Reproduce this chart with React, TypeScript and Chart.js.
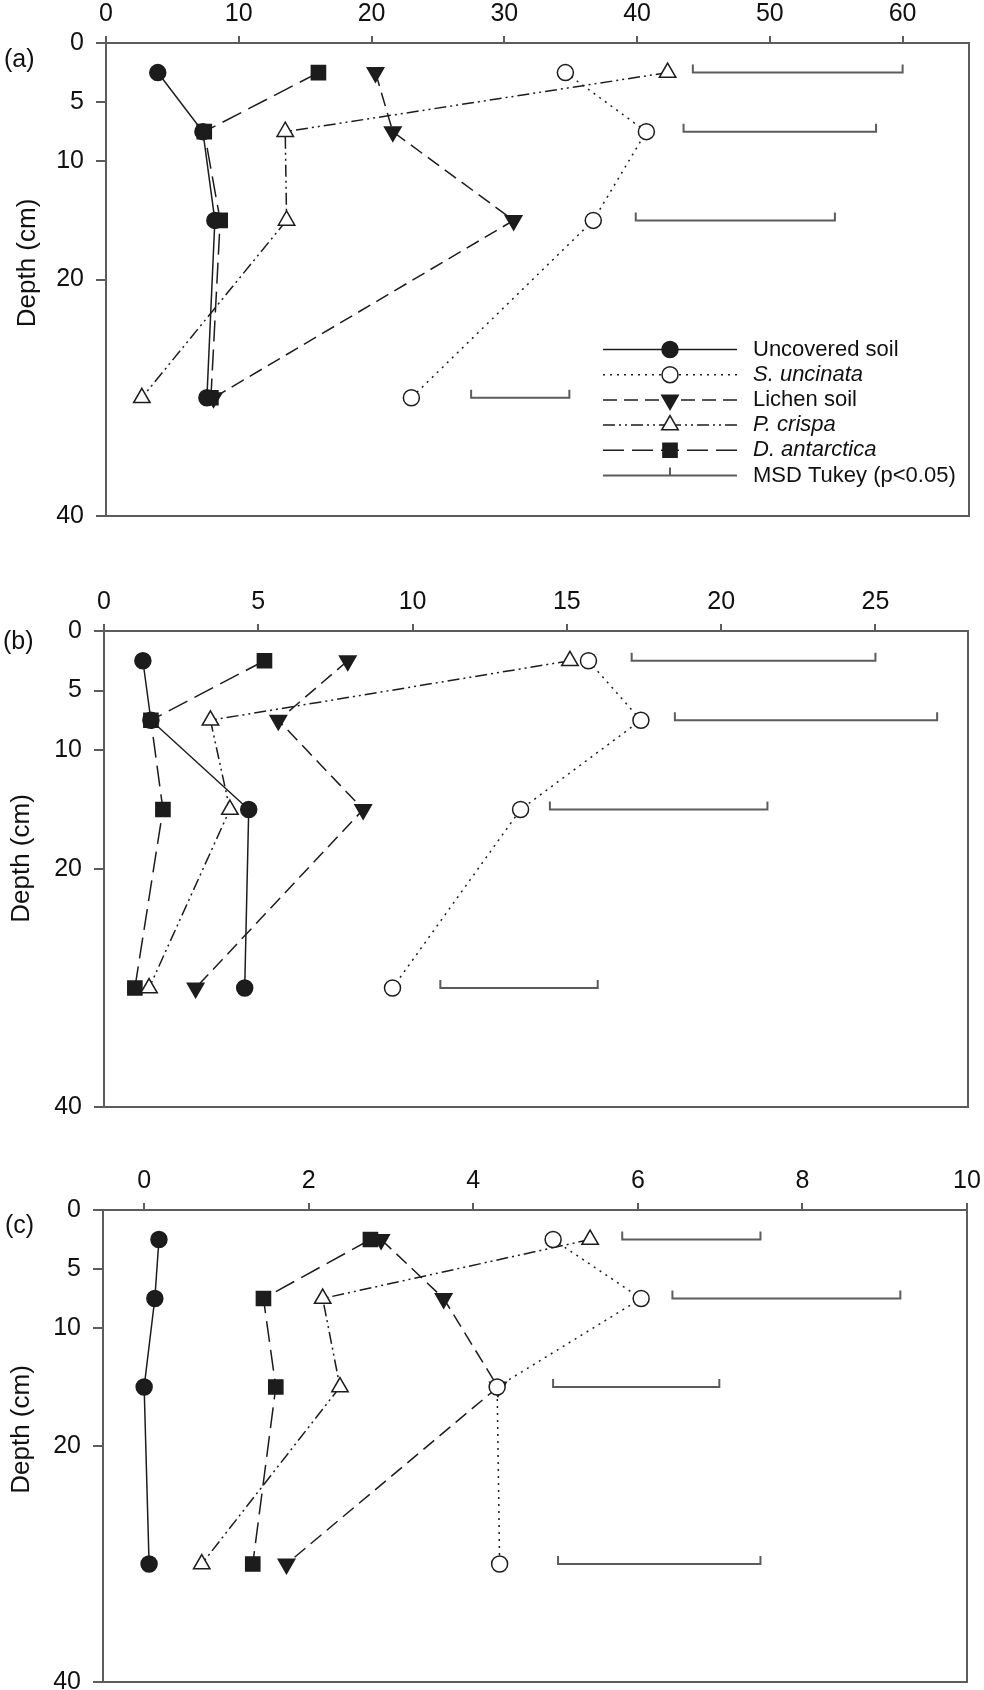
import React, { useEffect, useRef } from "react";
import { Chart, registerables } from "chart.js";

Chart.register(...registerables);

// ---------- data ----------
const DEPTHS = [2.5, 7.5, 15, 30];
const DEPTH_TICKS = [0, 5, 10, 20, 40];
const SERIES = ["Uncovered soil", "S. uncinata", "Lichen soil", "P. crispa", "D. antarctica"];
const SERIES_ITALIC = [false, true, false, true, true];
const MSD_LABEL = "MSD Tukey (p<0.05)";
const Y_TITLE = "Depth (cm)";

// panel (a)
const A_X_TICKS = [0, 10, 20, 30, 40, 50, 60];
const A_UNCOVERED = [3.9, 7.3, 8.2, 7.6];
const A_S_UNCINATA = [34.6, 40.7, 36.7, 23.0];
const A_LICHEN = [20.3, 21.6, 30.7, 8.1];
const A_P_CRISPA = [42.3, 13.5, 13.6, 2.7];
const A_D_ANTARCTICA = [16.0, 7.4, 8.6, 7.9];
const A_MSD_FROM = [44.2, 43.5, 39.9, 27.5];
const A_MSD_TO = [60.0, 58.0, 54.9, 34.9];

// panel (b)
const B_X_TICKS = [0, 5, 10, 15, 20, 25];
const B_UNCOVERED = [1.26, 1.52, 4.69, 4.56];
const B_S_UNCINATA = [15.7, 17.4, 13.5, 9.35];
const B_LICHEN = [7.9, 5.65, 8.4, 2.97];
const B_P_CRISPA = [15.1, 3.45, 4.08, 1.46];
const B_D_ANTARCTICA = [5.2, 1.52, 1.91, 1.0];
const B_MSD_FROM = [17.1, 18.5, 14.45, 10.9];
const B_MSD_TO = [25.0, 27.0, 21.5, 16.0];

// panel (c)
const C_X_TICKS = [0, 2, 4, 6, 8, 10];
const C_UNCOVERED = [0.18, 0.13, 0.0, 0.06];
const C_S_UNCINATA = [4.97, 6.04, 4.29, 4.32];
const C_LICHEN = [2.88, 3.64, 4.3, 1.73];
const C_P_CRISPA = [5.42, 2.17, 2.38, 0.7];
const C_D_ANTARCTICA = [2.75, 1.45, 1.6, 1.32];
const C_MSD_FROM = [5.81, 6.42, 4.97, 5.03];
const C_MSD_TO = [7.49, 9.19, 6.99, 7.49];

// ---------- styles ----------
const INK = "#1c1c1c";
const AXIS = "#5c5c5c";
const TEXT = "#111111";
const FONT = "'Liberation Sans', Arial, Helvetica, sans-serif";
const CANVAS_W = 1010;
const X_AXIS_H = 40;

type MarkerStyle = { point: string; radius: number; rotation: number; filled: boolean; dash: number[] };
const SERIES_STYLE: MarkerStyle[] = [
  { point: "circle", radius: 8, rotation: 0, filled: true, dash: [] },
  { point: "circle", radius: 8, rotation: 0, filled: false, dash: [2, 5] },
  { point: "triangle", radius: 9.5, rotation: 180, filled: true, dash: [14, 7] },
  { point: "triangle", radius: 9.5, rotation: 0, filled: false, dash: [12, 4, 2, 4, 2, 4] },
  { point: "rect", radius: 10, rotation: 0, filled: true, dash: [21, 8] },
];

type PanelCfg = {
  letter: string;
  series: number[][];
  msdFrom: number[];
  msdTo: number[];
  xTicks: number[];
  xMin: number;
  xMax: number;
  canvasTop: number;
  left: number;
  top: number;
  right: number;
  bottom: number;
  titleX: number;
  titleDy: number;
  letterX: number;
  letterDy: number;
  legend: boolean;
};

const PANELS: PanelCfg[] = [
  {
    letter: "(a)",
    series: [A_UNCOVERED, A_S_UNCINATA, A_LICHEN, A_P_CRISPA, A_D_ANTARCTICA],
    msdFrom: A_MSD_FROM,
    msdTo: A_MSD_TO,
    xTicks: A_X_TICKS,
    xMin: 0,
    xMax: 65,
    canvasTop: 0,
    left: 106,
    top: 43,
    right: 969,
    bottom: 516,
    titleX: 28,
    titleDy: -16.5,
    letterX: 4,
    letterDy: 17.5,
    legend: true,
  },
  {
    letter: "(b)",
    series: [B_UNCOVERED, B_S_UNCINATA, B_LICHEN, B_P_CRISPA, B_D_ANTARCTICA],
    msdFrom: B_MSD_FROM,
    msdTo: B_MSD_TO,
    xTicks: B_X_TICKS,
    xMin: 0,
    xMax: 28,
    canvasTop: 570,
    left: 104,
    top: 631,
    right: 968,
    bottom: 1107,
    titleX: 22,
    titleDy: -10.5,
    letterX: 3,
    letterDy: 11.5,
    legend: false,
  },
  {
    letter: "(c)",
    series: [C_UNCOVERED, C_S_UNCINATA, C_LICHEN, C_P_CRISPA, C_D_ANTARCTICA],
    msdFrom: C_MSD_FROM,
    msdTo: C_MSD_TO,
    xTicks: C_X_TICKS,
    xMin: -0.5,
    xMax: 10,
    canvasTop: 1140,
    left: 103,
    top: 1210,
    right: 967,
    bottom: 1682,
    titleX: 22,
    titleDy: -16.5,
    letterX: 5,
    letterDy: 16.5,
    legend: false,
  },
];

function drawMarker(ctx: CanvasRenderingContext2D, st: MarkerStyle, x: number, y: number) {
  ctx.save();
  ctx.setLineDash([]);
  ctx.lineWidth = 1.5;
  ctx.strokeStyle = INK;
  ctx.fillStyle = st.filled ? INK : "#ffffff";
  ctx.beginPath();
  const r = st.radius;
  if (st.point === "circle") {
    ctx.arc(x, y, r, 0, Math.PI * 2);
  } else if (st.point === "rect") {
    const s = r * Math.SQRT1_2;
    ctx.rect(x - s, y - s, 2 * s, 2 * s);
  } else {
    let a = (st.rotation * Math.PI) / 180;
    ctx.moveTo(x + Math.sin(a) * r, y - Math.cos(a) * r);
    a += (2 * Math.PI) / 3;
    ctx.lineTo(x + Math.sin(a) * r, y - Math.cos(a) * r);
    a += (2 * Math.PI) / 3;
    ctx.lineTo(x + Math.sin(a) * r, y - Math.cos(a) * r);
    ctx.closePath();
  }
  ctx.fill();
  ctx.stroke();
  ctx.restore();
}

function makePlugin(p: PanelCfg) {
  return {
    id: "decor" + p.letter.replace(/[()]/g, ""),
    beforeDatasetsDraw(chart: any) {
      const { ctx, chartArea: a } = chart;
      ctx.save();
      ctx.strokeStyle = AXIS;
      ctx.lineWidth = 2;
      ctx.strokeRect(a.left, a.top, a.right - a.left, a.bottom - a.top);
      ctx.restore();
    },
    afterDatasetsDraw(chart: any) {
      const { ctx, chartArea: a } = chart;
      const xs = chart.scales.x;
      const ys = chart.scales.y;
      // MSD bars
      ctx.save();
      ctx.strokeStyle = AXIS;
      ctx.lineWidth = 2;
      ctx.setLineDash([]);
      for (let i = 0; i < DEPTHS.length; i++) {
        const yp = ys.getPixelForValue(DEPTHS[i]);
        const x0 = xs.getPixelForValue(p.msdFrom[i]);
        const x1 = xs.getPixelForValue(p.msdTo[i]);
        ctx.beginPath();
        ctx.moveTo(x0, yp - 8);
        ctx.lineTo(x0, yp);
        ctx.lineTo(x1, yp);
        ctx.lineTo(x1, yp - 8);
        ctx.stroke();
      }
      ctx.restore();

      // panel letter and axis title
      ctx.save();
      ctx.fillStyle = TEXT;
      ctx.font = `25px ${FONT}`;
      ctx.textAlign = "left";
      ctx.textBaseline = "middle";
      ctx.fillText(p.letter, p.letterX, a.top + p.letterDy);
      ctx.font = `26px ${FONT}`;
      ctx.translate(p.titleX, (a.top + a.bottom) / 2 + p.titleDy);
      ctx.rotate(-Math.PI / 2);
      ctx.textAlign = "center";
      ctx.fillText(Y_TITLE, 0, 0);
      ctx.restore();

      if (p.legend) {
        const lx0 = a.left + 497;
        const lx1 = a.left + 631;
        const mx = (lx0 + lx1) / 2;
        const tx = a.left + 647;
        const y0 = a.top + 306.5;
        const step = 25.2;
        ctx.save();
        for (let i = 0; i <= SERIES.length; i++) {
          const y = y0 + i * step;
          if (i < SERIES.length) {
            const st = SERIES_STYLE[i];
            ctx.strokeStyle = INK;
            ctx.lineWidth = 1.5;
            ctx.setLineDash(st.dash);
            ctx.beginPath();
            ctx.moveTo(lx0, y);
            ctx.lineTo(mx, y);
            ctx.stroke();
            ctx.beginPath();
            ctx.moveTo(lx1, y);
            ctx.lineTo(mx, y);
            ctx.stroke();
            ctx.setLineDash([]);
            drawMarker(ctx, st, mx, y);
          } else {
            ctx.strokeStyle = AXIS;
            ctx.lineWidth = 2;
            ctx.setLineDash([]);
            ctx.beginPath();
            ctx.moveTo(lx0, y);
            ctx.lineTo(lx1, y);
            ctx.moveTo(mx, y);
            ctx.lineTo(mx, y - 8);
            ctx.stroke();
          }
          ctx.fillStyle = TEXT;
          const italic = i < SERIES.length && SERIES_ITALIC[i];
          ctx.font = `${italic ? "italic " : ""}22px ${FONT}`;
          ctx.textAlign = "left";
          ctx.textBaseline = "middle";
          ctx.fillText(i < SERIES.length ? SERIES[i] : MSD_LABEL, tx, y);
        }
        ctx.restore();
      }
    },
  };
}

function buildConfig(p: PanelCfg, canvasH: number): any {
  const datasets = p.series.map((vals, i) => {
    const st = SERIES_STYLE[i];
    return {
      label: SERIES[i],
      data: DEPTHS.map((d, k) => ({ x: vals[k], y: d })),
      showLine: true,
      borderColor: INK,
      borderWidth: 1.5,
      borderDash: st.dash,
      pointStyle: st.point,
      pointRadius: st.radius,
      pointRotation: st.rotation,
      pointBackgroundColor: st.filled ? INK : "#ffffff",
      pointBorderColor: INK,
      pointBorderWidth: 1.5,
      tension: 0,
      fill: false,
      clip: false,
    };
  });
  const tickFont = { family: FONT, size: 25 };
  return {
    type: "scatter",
    data: { datasets },
    plugins: [makePlugin(p)],
    options: {
      responsive: false,
      animation: false,
      events: [],
      layout: {
        padding: {
          left: 0,
          top: p.top - p.canvasTop - X_AXIS_H,
          right: CANVAS_W - p.right,
          bottom: canvasH - (p.bottom - p.canvasTop),
        },
      },
      plugins: {
        legend: { display: false },
        tooltip: { enabled: false },
        title: { display: false },
      },
      scales: {
        x: {
          type: "linear",
          position: "top",
          min: p.xMin,
          max: p.xMax,
          afterBuildTicks: (s: any) => {
            s.ticks = p.xTicks.map((v) => ({ value: v }));
          },
          afterFit: (s: any) => {
            s.height = X_AXIS_H;
          },
          ticks: {
            font: tickFont,
            color: TEXT,
            padding: 7,
            maxRotation: 0,
            autoSkip: false,
            callback: (v: any) => String(v),
          },
          grid: { drawOnChartArea: false, drawTicks: true, tickLength: 7, color: AXIS, lineWidth: 2 },
          border: { display: false },
        },
        y: {
          type: "linear",
          reverse: true,
          min: 0,
          max: 40,
          afterBuildTicks: (s: any) => {
            s.ticks = DEPTH_TICKS.map((v) => ({ value: v }));
          },
          afterFit: (s: any) => {
            s.width = p.left;
          },
          ticks: {
            font: tickFont,
            color: TEXT,
            padding: 12,
            autoSkip: false,
            callback: (v: any) => String(v),
          },
          grid: { drawOnChartArea: false, drawTicks: true, tickLength: 10, color: AXIS, lineWidth: 2 },
          border: { display: false },
        },
      },
    },
  };
}

function Panel({ p }: { p: PanelCfg }) {
  const ref = useRef<HTMLCanvasElement | null>(null);
  const canvasH = Math.round(p.bottom + 45 - p.canvasTop);
  useEffect(() => {
    if (!ref.current) return;
    const chart = new Chart(ref.current, buildConfig(p, canvasH));
    return () => chart.destroy();
  }, []);
  return (
    <canvas
      ref={ref}
      width={CANVAS_W}
      height={canvasH}
      style={{ position: "absolute", left: 0, top: p.canvasTop, width: CANVAS_W, height: canvasH }}
    />
  );
}

export default function App() {
  return (
    <div
      style={{
        position: "absolute",
        left: 0,
        top: 0,
        width: 984,
        height: 1690,
        overflow: "hidden",
        background: "#ffffff",
      }}
    >
      {PANELS.map((p) => (
        <Panel key={p.letter} p={p} />
      ))}
    </div>
  );
}
